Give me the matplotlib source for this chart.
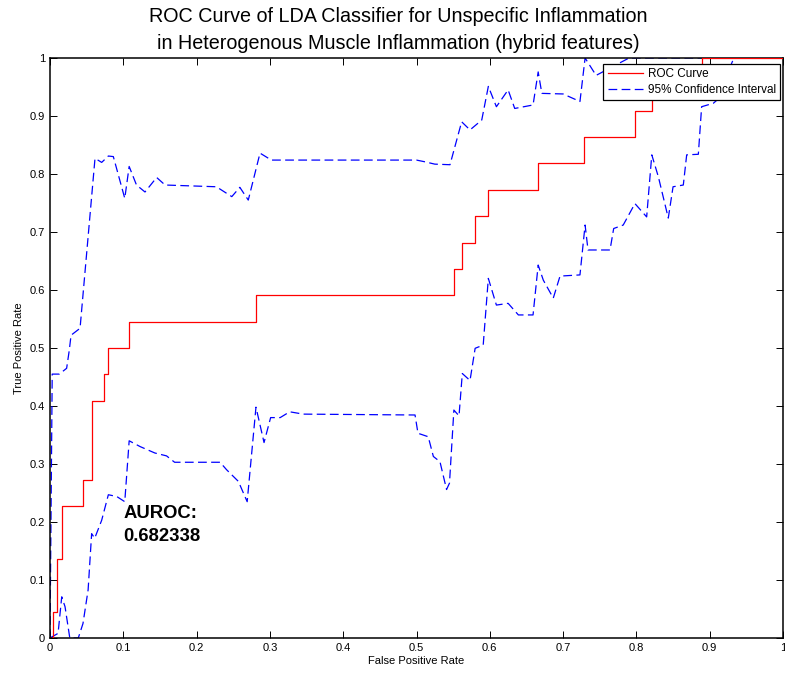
import matplotlib
matplotlib.use("Agg")
import matplotlib.pyplot as plt

plt.rcParams['font.family'] = ['Liberation Sans', 'DejaVu Sans']

# ROC operating points (step corners, post-step)
roc_fpr = [0.0, 0.004, 0.010, 0.0168, 0.0455, 0.0568, 0.0737, 0.0796, 0.108,
           0.281, 0.5507, 0.5625, 0.580, 0.597, 0.666, 0.729, 0.798, 0.821,
           0.889, 1.0]
roc_tpr = [0.0, 0.0455, 0.1364, 0.2273, 0.2727, 0.4091, 0.4545, 0.5, 0.5455,
           0.5909, 0.6364, 0.6818, 0.7273, 0.7727, 0.8182, 0.8636, 0.9091,
           0.9545, 1.0, 1.0]

# 95% confidence band (upper bound)
ci_up_fpr = [0.0, 0.003, 0.0127, 0.0227, 0.0264, 0.0287, 0.041, 0.0614, 0.0705,
             0.0796, 0.0864, 0.102, 0.108, 0.118, 0.1296, 0.1455, 0.157, 0.227,
             0.248, 0.259, 0.2705, 0.2865, 0.302, 0.500, 0.5116, 0.525, 0.5457,
             0.5616, 0.573, 0.589, 0.598, 0.609, 0.625, 0.634, 0.659, 0.666,
             0.671, 0.700, 0.723, 0.730, 0.745, 0.790, 1.0]
ci_up_tpr = [0.0, 0.455, 0.455, 0.465, 0.497, 0.522, 0.534, 0.827, 0.820,
             0.831, 0.830, 0.758, 0.813, 0.781, 0.769, 0.794, 0.781, 0.778,
             0.761, 0.777, 0.755, 0.836, 0.824, 0.824, 0.821, 0.817, 0.816,
             0.890, 0.876, 0.893, 0.951, 0.916, 0.945, 0.913, 0.919, 0.976,
             0.939, 0.938, 0.925, 1.0, 0.970, 1.0, 1.0]

# 95% confidence band (lower bound)
ci_lo_fpr = [0.0, 0.011, 0.016, 0.0205, 0.027, 0.0386, 0.045, 0.052, 0.0568,
             0.061, 0.0705, 0.0796, 0.091, 0.102, 0.108, 0.123, 0.143, 0.159,
             0.170, 0.232, 0.241, 0.257, 0.269, 0.281, 0.292, 0.301, 0.314,
             0.327, 0.3456, 0.498, 0.502, 0.516, 0.523, 0.532, 0.541, 0.545,
             0.551, 0.558, 0.5625, 0.573, 0.580, 0.591, 0.598, 0.609, 0.625,
             0.639, 0.659, 0.666, 0.673, 0.6866, 0.6958, 0.723, 0.730, 0.734,
             0.764, 0.769, 0.782, 0.798, 0.814, 0.821, 0.830, 0.8435, 0.850,
             0.864, 0.8686, 0.8845, 0.889, 0.905, 0.916, 0.928, 0.933, 1.0]
ci_lo_tpr = [0.0, 0.008, 0.071, 0.054, 0.0, 0.0, 0.025, 0.083, 0.180,
             0.172, 0.203, 0.247, 0.244, 0.235, 0.340, 0.330, 0.319, 0.314,
             0.303, 0.303, 0.290, 0.270, 0.235, 0.398, 0.337, 0.380, 0.380,
             0.390, 0.386, 0.3845, 0.353, 0.347, 0.313, 0.304, 0.256, 0.267,
             0.393, 0.383, 0.456, 0.444, 0.4995, 0.505, 0.620, 0.574, 0.577,
             0.557, 0.557, 0.643, 0.617, 0.586, 0.624, 0.626, 0.712, 0.669,
             0.669, 0.706, 0.712, 0.749, 0.726, 0.833, 0.795, 0.724, 0.778,
             0.781, 0.833, 0.834, 0.916, 0.922, 0.934, 0.985, 1.0, 1.0]

auroc = 0.682338

tick_vals = [0, 0.1, 0.2, 0.3, 0.4, 0.5, 0.6, 0.7, 0.8, 0.9, 1]
tick_text = ['0', '0.1', '0.2', '0.3', '0.4', '0.5', '0.6', '0.7', '0.8', '0.9', '1']

fig = plt.figure(figsize=(7.85, 6.73), dpi=100)
ax = fig.add_axes([50 / 785, 1 - 638 / 673, 733 / 785, 580 / 673])

dash = (0, (7, 3.5))
ax.step(roc_fpr, roc_tpr, where='post', color='red', lw=0.9,
        label='ROC Curve', zorder=3)
ax.plot(ci_up_fpr, ci_up_tpr, color='blue', lw=0.9, linestyle=dash,
        label='95% Confidence Interval', zorder=2)
ax.plot(ci_lo_fpr, ci_lo_tpr, color='blue', lw=0.9, linestyle=dash, zorder=2)

ax.set_xlim(0, 1)
ax.set_ylim(0, 1)
ax.set_xticks(tick_vals)
ax.set_xticklabels(tick_text)
ax.set_yticks(tick_vals)
ax.set_yticklabels(tick_text)
ax.tick_params(direction='in', length=5, width=0.7, top=True, right=True,
               labelsize=8, pad=3.5, colors='black')
for s in ax.spines.values():
    s.set_linewidth(1.1)

ax.set_xlabel('False Positive Rate', fontsize=8, labelpad=2)
ax.set_ylabel('True Positive Rate', fontsize=8, labelpad=4)
ax.set_title('ROC Curve of LDA Classifier for Unspecific Inflammation\n'
             'in Heterogenous Muscle Inflammation (hybrid features)',
             fontsize=14.2, x=(398 - 50) / 733, pad=6.5, linespacing=1.5)

ax.text(0.1, 0.195, 'AUROC:\n%.6f' % auroc, fontsize=13.3, fontweight='bold',
        ha='left', va='center', linespacing=1.45)

leg = ax.legend(loc='upper right', bbox_to_anchor=((780 - 50) / 733, (638 - 64) / 580),
                borderaxespad=0, fontsize=8.5, frameon=True, fancybox=False,
                handlelength=3.0, handletextpad=0.4, labelspacing=0.3,
                borderpad=0.35)
leg.get_frame().set_edgecolor('black')
leg.get_frame().set_linewidth(0.9)
leg.get_frame().set_alpha(1)

fig.savefig('out.png', dpi=100)
